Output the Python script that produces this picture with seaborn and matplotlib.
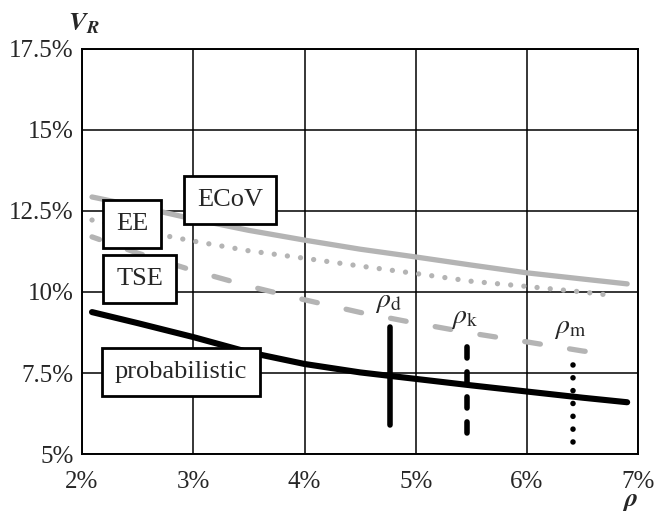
import matplotlib
matplotlib.use("Agg")
import matplotlib.pyplot as plt
from matplotlib.ticker import FuncFormatter
import pandas as pd
import seaborn as sns

# Данные (rho в %, V_R в %)
rho = [2.09, 2.5, 3.0, 3.5, 4.0, 4.5, 5.0, 5.5, 6.0, 6.5, 6.9]
ecov = [12.93, 12.64, 12.25, 11.9, 11.6, 11.32, 11.08, 10.83, 10.59, 10.4, 10.25]
ee_rho = [2.09, 2.5, 3.0, 3.5, 4.0, 4.5, 5.0, 5.5, 6.0, 6.5, 6.8]
ee = [12.22, 11.9, 11.57, 11.27, 11.04, 10.8, 10.57, 10.33, 10.17, 10.0, 9.88]
tse_rho = [2.09, 2.5, 3.0, 3.5, 4.0, 4.5, 5.0, 5.5, 6.0, 6.5, 6.72]
tse = [11.7, 11.2, 10.66, 10.18, 9.76, 9.37, 9.04, 8.73, 8.46, 8.18, 8.09]
prob = [9.38, 9.04, 8.61, 8.14, 7.78, 7.52, 7.32, 7.12, 6.93, 6.74, 6.6]

# Характерные значения rho и диапазоны вертикальных отрезков
marks = ["d", "k", "m"]
mark_rho = [4.77, 5.46, 6.41]
mark_lo = [5.9, 5.65, 5.37]
mark_hi = [8.92, 8.43, 8.12]

yticks = [5, 7.5, 10, 12.5, 15, 17.5]
xticks = [2, 3, 4, 5, 6, 7]

sns.set_style("white")
plt.rcParams['font.family'] = ['Liberation Serif', 'DejaVu Serif']
plt.rcParams['mathtext.fontset'] = 'stix'

fig = plt.figure(figsize=(6.56, 5.19), dpi=100)
ax = fig.add_axes([0.125, 0.125, 0.848, 0.781])

gray = "#b4b4b4"
df_ecov = pd.DataFrame({"rho": rho, "v": ecov})
df_ee = pd.DataFrame({"rho": ee_rho, "v": ee})
df_tse = pd.DataFrame({"rho": tse_rho, "v": tse})
df_prob = pd.DataFrame({"rho": rho, "v": prob})

sns.lineplot(data=df_ecov, x="rho", y="v", ax=ax, color=gray, lw=3.8,
             solid_capstyle="round")
sns.lineplot(data=df_ee, x="rho", y="v", ax=ax, color=gray, lw=3.8,
             linestyle=(0, (0.01, 2.5)), dash_capstyle="round")
sns.lineplot(data=df_tse, x="rho", y="v", ax=ax, color=gray, lw=3.8,
             linestyle=(1.5, (3.0, 5.6)), dash_capstyle="round")
sns.lineplot(data=df_prob, x="rho", y="v", ax=ax, color="black", lw=4.4,
             solid_capstyle="round")

styles = ["-", (0, (2.0, 2.5)), (0, (0.01, 2.3))]
for m, r, lo, hi, st in zip(marks, mark_rho, mark_lo, mark_hi, styles):
    ax.plot([r, r], [lo, hi], color="black", lw=4, linestyle=st,
            solid_capstyle="round", dash_capstyle="round")
    ax.text(r - 0.02, hi + 0.75, r"$\rho_{\mathrm{%s}}$" % m, fontsize=20,
            ha="center", va="center")

# Подписи кривых в рамках
box = dict(boxstyle="square,pad=0.5", fc="white", ec="black", lw=2)
ax.text(2.45, 12.1, "EE", fontsize=19, ha="center", va="center", bbox=box)
ax.text(3.33, 12.84, "ECoV", fontsize=19, ha="center", va="center", bbox=box)
ax.text(2.52, 10.4, "TSE", fontsize=19, ha="center", va="center", bbox=box)
ax.text(2.89, 7.53, "probabilistic", fontsize=19, ha="center", va="center", bbox=box)

ax.set_xlim(2, 7)
ax.set_ylim(5, 17.5)
ax.set_xticks(xticks)
ax.set_yticks(yticks)
ax.xaxis.set_major_formatter(FuncFormatter(lambda v, p: f"{v:g}%"))
ax.yaxis.set_major_formatter(FuncFormatter(lambda v, p: f"{v:g}%"))
ax.tick_params(axis="x", labelsize=18, length=0, pad=12)
ax.tick_params(axis="y", labelsize=18, length=0, pad=6)
ax.grid(True, color="black", lw=1.1)
for s in ax.spines.values():
    s.set_color("black")
    s.set_linewidth(1.4)
ax.set_xlabel("")
ax.set_ylabel("")

fig.text(0.104, 0.955, r"$\mathbfit{V_R}$", fontsize=19, ha="left", va="center")
fig.text(0.96, 0.012, r"$\mathbfit{\rho}$", fontsize=19, ha="center", va="bottom")

fig.savefig("out.png", dpi=100)
